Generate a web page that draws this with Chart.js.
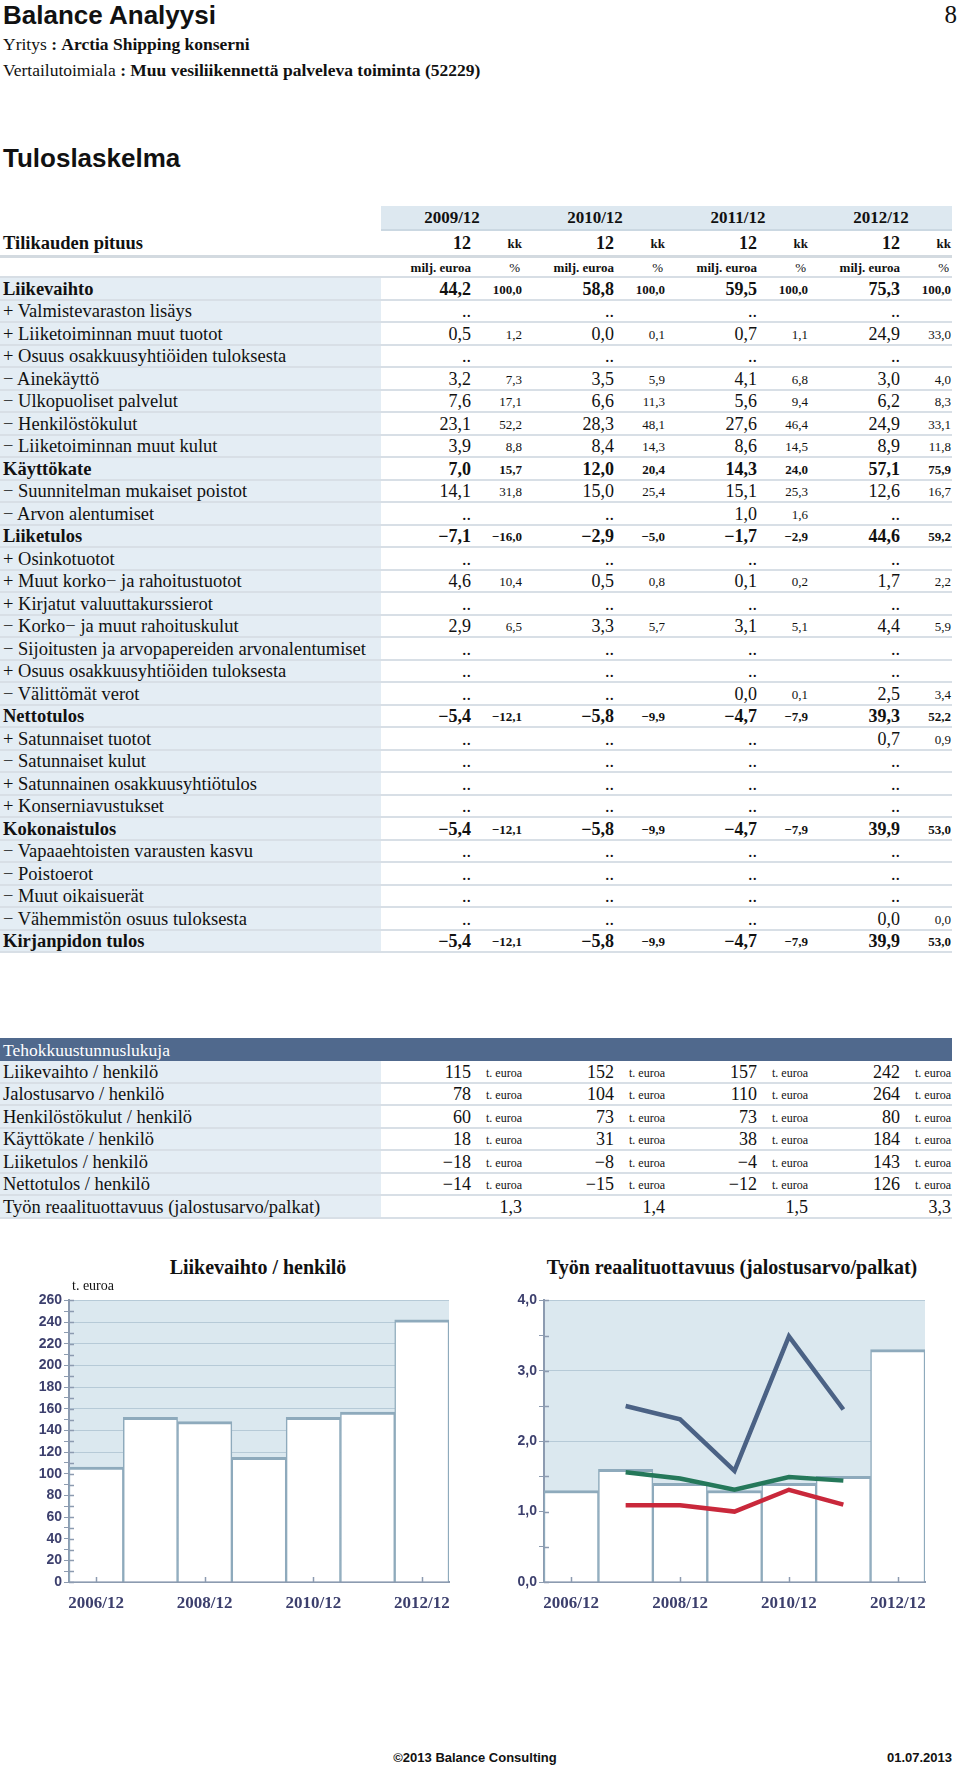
<!DOCTYPE html>
<html>
<head>
<meta charset="utf-8">
<title>Balance Analyysi</title>
<script src="https://cdn.jsdelivr.net/npm/chart.js@4.4.0/dist/chart.umd.min.js"></script>
<style>
  body { margin: 0; background: #fff; }
  #page { position: relative; width: 960px; height: 1767px; overflow: hidden; font-family: "Liberation Serif", serif; color: #111; }
  .t { position: absolute; height: 24px; line-height: 24px; white-space: nowrap; }
  .b { font-weight: bold; }
  .lab { font-size: 18.5px; }
  .val { font-size: 18px; }
  .pct { font-size: 13px; }
  .sans { font-family: "Liberation Sans", sans-serif; }
  .box { position: absolute; }
  canvas { position: absolute; }
</style>
</head>
<body>
<div id="page">
  <canvas id="salesChart" width="470" height="330" style="left:0;top:1290px"></canvas>
  <canvas id="prodChart" width="470" height="330" style="left:480px;top:1290px"></canvas>
</div>
<script>
'use strict';

// chart data
var years = ['2006/12', '2007/12', '2008/12', '2009/12', '2010/12', '2011/12', '2012/12'];
var salesPerPerson = [106, 152, 148, 115, 152, 157, 242];
var salesTicks = [0, 20, 40, 60, 80, 100, 120, 140, 160, 180, 200, 220, 240, 260];
var productivity = [1.3, 1.6, 1.4, 1.3, 1.4, 1.5, 3.3];
var prodUpper = [null, 2.5, 2.31, 1.58, 3.49, 2.45, null];
var prodMedian = [null, 1.56, 1.47, 1.31, 1.49, 1.44, null];
var prodLower = [null, 1.09, 1.09, 1.0, 1.31, 1.1, null];

// income statement
var periods = ['2009/12', '2010/12', '2011/12', '2012/12'];
var rowLabels = ['Liikevaihto', '+ Valmistevaraston lisäys', '+ Liiketoiminnan muut tuotot',
  '+ Osuus osakkuusyhtiöiden tuloksesta', '− Ainekäyttö', '− Ulkopuoliset palvelut',
  '− Henkilöstökulut', '− Liiketoiminnan muut kulut', 'Käyttökate',
  '− Suunnitelman mukaiset poistot', '− Arvon alentumiset', 'Liiketulos', '+ Osinkotuotot',
  '+ Muut korko− ja rahoitustuotot', '+ Kirjatut valuuttakurssierot',
  '− Korko− ja muut rahoituskulut', '− Sijoitusten ja arvopapereiden arvonalentumiset',
  '+ Osuus osakkuusyhtiöiden tuloksesta', '− Välittömät verot', 'Nettotulos',
  '+ Satunnaiset tuotot', '− Satunnaiset kulut', '+ Satunnainen osakkuusyhtiötulos',
  '+ Konserniavustukset', 'Kokonaistulos', '− Vapaaehtoisten varausten kasvu',
  '− Poistoerot', '− Muut oikaisuerät', '− Vähemmistön osuus tuloksesta', 'Kirjanpidon tulos'];
var boldRows = [0, 8, 11, 19, 24, 29];

var val2009 = ['44,2', '..', '0,5', '..', '3,2', '7,6', '23,1', '3,9', '7,0', '14,1', '..', '−7,1', '..', '4,6', '..', '2,9', '..', '..', '..', '−5,4', '..', '..', '..', '..', '−5,4', '..', '..', '..', '..', '−5,4'];
var pct2009 = ['100,0', '', '1,2', '', '7,3', '17,1', '52,2', '8,8', '15,7', '31,8', '', '−16,0', '', '10,4', '', '6,5', '', '', '', '−12,1', '', '', '', '', '−12,1', '', '', '', '', '−12,1'];
var val2010 = ['58,8', '..', '0,0', '..', '3,5', '6,6', '28,3', '8,4', '12,0', '15,0', '..', '−2,9', '..', '0,5', '..', '3,3', '..', '..', '..', '−5,8', '..', '..', '..', '..', '−5,8', '..', '..', '..', '..', '−5,8'];
var pct2010 = ['100,0', '', '0,1', '', '5,9', '11,3', '48,1', '14,3', '20,4', '25,4', '', '−5,0', '', '0,8', '', '5,7', '', '', '', '−9,9', '', '', '', '', '−9,9', '', '', '', '', '−9,9'];
var val2011 = ['59,5', '..', '0,7', '..', '4,1', '5,6', '27,6', '8,6', '14,3', '15,1', '1,0', '−1,7', '..', '0,1', '..', '3,1', '..', '..', '0,0', '−4,7', '..', '..', '..', '..', '−4,7', '..', '..', '..', '..', '−4,7'];
var pct2011 = ['100,0', '', '1,1', '', '6,8', '9,4', '46,4', '14,5', '24,0', '25,3', '1,6', '−2,9', '', '0,2', '', '5,1', '', '', '0,1', '−7,9', '', '', '', '', '−7,9', '', '', '', '', '−7,9'];
var val2012 = ['75,3', '..', '24,9', '..', '3,0', '6,2', '24,9', '8,9', '57,1', '12,6', '..', '44,6', '..', '1,7', '..', '4,4', '..', '..', '2,5', '39,3', '0,7', '..', '..', '..', '39,9', '..', '..', '..', '0,0', '39,9'];
var pct2012 = ['100,0', '', '33,0', '', '4,0', '8,3', '33,1', '11,8', '75,9', '16,7', '', '59,2', '', '2,2', '', '5,9', '', '', '3,4', '52,2', '0,9', '', '', '', '53,0', '', '', '', '0,0', '53,0'];

// efficiency figures (t. euroa)
var effLabels = ['Liikevaihto / henkilö', 'Jalostusarvo / henkilö', 'Henkilöstökulut / henkilö',
  'Käyttökate / henkilö', 'Liiketulos / henkilö', 'Nettotulos / henkilö'];
var eff2009 = ['115', '78', '60', '18', '−18', '−14'];
var eff2010 = ['152', '104', '73', '31', '−8', '−15'];
var eff2011 = ['157', '110', '73', '38', '−4', '−12'];
var eff2012 = ['242', '264', '80', '184', '143', '126'];

var page = document.getElementById('page');

function box(x, y, w, h, color) {
  var d = document.createElement('div');
  d.className = 'box';
  d.style.left = x + 'px'; d.style.top = y + 'px';
  d.style.width = w + 'px'; d.style.height = h + 'px';
  d.style.background = color;
  page.appendChild(d);
}

function put(txt, x, yc, cls, align, style) {
  var d = document.createElement('div');
  d.className = 't ' + (cls || '');
  d.textContent = txt;
  d.style.top = (yc - 12) + 'px';
  if (align === 'r') {
    d.style.right = (960 - x) + 'px';
  } else if (align === 'c') {
    d.style.left = (x - 250) + 'px'; d.style.width = '500px'; d.style.textAlign = 'center';
  } else {
    d.style.left = x + 'px';
  }
  if (style) Object.keys(style).forEach(function(k) { d.style[k] = style[k]; });
  page.appendChild(d);
  return d;
}

//header
put('Balance Analyysi', 3, 15, 'sans b', 'l', {fontSize: '26px', height: '30px', lineHeight: '30px', top: '0px'});
put('8', 957, 15, '', 'r', {fontSize: '25px'});
var yr = put('', 3, 44, '', 'l', {fontSize: '17.5px'});
yr.innerHTML = 'Yritys <b>:</b> <b>Arctia Shipping konserni</b>';
var vt = put('', 3, 70, '', 'l', {fontSize: '17.5px'});
vt.innerHTML = 'Vertailutoimiala <b>:</b> <b>Muu vesiliikennettä palveleva toiminta (52229)</b>';
put('Tuloslaskelma', 3, 158, 'sans b', 'l', {fontSize: '26px'});

// income statement table
var colL = 381, groupW = 143, valRight = 471, pctRight = 522, tableR = 952;
var vals = [val2009, val2010, val2011, val2012];
var pcts = [pct2009, pct2010, pct2011, pct2012];

box(colL, 206, tableR - colL, 23, '#dde8f0');
box(colL, 229, tableR - colL, 2, '#cbd8e2');
box(0, 255, tableR, 3, '#d3dae0');
box(0, 276, tableR, 2, '#d7dee5');
put('Tilikauden pituus', 3, 243, 'lab b');
periods.forEach(function(p, k) {
  var off = k * groupW;
  put(p, colL + off + 71, 217.5, 'b', 'c', {fontSize: '17px'});
  put('12', valRight + off, 243, 'val b', 'r');
  put('kk', pctRight + off, 244, 'pct b', 'r');
  put('milj. euroa', valRight + off, 268, 'pct b', 'r');
  put('%', pctRight + off - 2, 268, 'pct', 'r');
});

var rowTop0 = 278, rowH = 22.5;
rowLabels.forEach(function(lab, i) {
  var rowY = rowTop0 + rowH * i;
  var yc = rowY + 10.5;
  var bold = boldRows.indexOf(i) >= 0;
  box(0, rowY, colL, rowH - 2, '#e4edf4');
  box(0, rowY + rowH - 2, tableR, 2, '#d8dfe6');
  put(lab, 3, yc, 'lab' + (bold ? ' b' : ''));
  for (var k = 0; k < 4; k++) {
    var off = k * groupW;
    put(vals[k][i], valRight + off, yc, 'val' + (bold ? ' b' : ''), 'r');
    if (pcts[k][i]) put(pcts[k][i], pctRight + off, yc + 1, 'pct' + (bold ? ' b' : ''), 'r');
  }
});

// efficiency table
var effs = [eff2009, eff2010, eff2011, eff2012];
box(0, 1038, tableR, 23, '#50698d');
put('Tehokkuustunnuslukuja', 3, 1049.5, 'lab', 'l', {color: '#fff', fontSize: '17.5px'});
var effTop0 = 1061;
for (var r = 0; r <= effLabels.length; r++) {
  var effY = effTop0 + rowH * r;
  var eyc = effY + 10.5;
  box(0, effY, colL, rowH - 2, '#e4edf4');
  box(0, effY + rowH - 2, tableR, 2, '#d8dfe6');
  if (r < effLabels.length) {
    put(effLabels[r], 3, eyc, 'lab');
    for (var k = 0; k < 4; k++) {
      put(effs[k][r], valRight + k * groupW, eyc, 'val', 'r');
      put('t. euroa', pctRight + k * groupW, eyc + 1, 'pct', 'r', {fontSize: '12px'});
    }
  } else {
    put('Työn reaalituottavuus (jalostusarvo/palkat)', 3, eyc, 'lab');
    for (var k = 0; k < 4; k++) {
      put(productivity[k + 3].toFixed(1).replace('.', ','), pctRight + k * groupW, eyc, 'val', 'r');
    }
  }
}

// chart titles
put('Liikevaihto / henkilö', 258, 1267, 'b', 'c', {fontSize: '20px'});
put('t. euroa', 72, 1286, '', 'l', {fontSize: '14px'});
put('Työn reaalituottavuus (jalostusarvo/palkat)', 732, 1267, 'b', 'c', {fontSize: '20px'});

// footer
put('©2013 Balance Consulting', 475, 1758, 'sans b', 'c', {fontSize: '13px'});
put('01.07.2013', 952, 1758, 'sans b', 'r', {fontSize: '13px'});

//Charts
var navy = '#3c3f6d';
var axisCol = '#8c9bb0';
var barEdge = '#8eaabc';

var plotBg = {
  id: 'plotBg',
  beforeDraw: function(chart) {
    var a = chart.chartArea, c = chart.ctx;
    c.save();
    c.fillStyle = '#dbe8ef';
    c.fillRect(a.left, a.top, a.right - a.left, a.bottom - a.top);
    c.restore();
  }
};

var innerTicks = {
  id: 'innerTicks',
  afterDatasetsDraw: function(chart) {
    var c = chart.ctx, ys = chart.scales.y, xs = chart.scales.x, a = chart.chartArea;
    c.save();
    c.strokeStyle = axisCol;
    c.lineWidth = 1.5;
    ys.ticks.forEach(function(t) {
      var py = Math.round(ys.getPixelForValue(t.value)) + 0.5;
      c.beginPath(); c.moveTo(a.left, py); c.lineTo(a.left + 5, py); c.stroke();
    });
    xs.ticks.forEach(function(t, i) {
      if (i % 2) return;
      var px = Math.round(xs.getPixelForTick(i)) + 0.5;
      c.beginPath(); c.moveTo(px, a.bottom); c.lineTo(px, a.bottom - 5); c.stroke();
    });
    c.restore();
  }
};

function chartOptions(yMax, step, major, fmt, yWidth, rightPad) {
  return {
    responsive: false,
    animation: false,
    devicePixelRatio: 1,
    layout: { padding: { top: 10, right: rightPad, bottom: 0, left: 0 } },
    plugins: { legend: { display: false }, tooltip: { enabled: false } },
    scales: {
      x: {
        offset: true,
        grid: { display: false },
        border: { color: axisCol, width: 2 },
        ticks: {
          autoSkip: false, maxRotation: 0, padding: 3, color: navy,
          font: { family: 'Liberation Serif', weight: 'bold', size: 17 },
          callback: function(v, i) { return i % 2 === 0 ? years[i] : ''; }
        },
        afterFit: function(s) { s.height = 38; }
      },
      y: {
        min: 0, max: yMax,
        grid: {
          color: function(ctx) {
            var v = ctx.tick ? ctx.tick.value : 0;
            return (v > 0 && Math.abs(v / major - Math.round(v / major)) < 1e-6) ? '#b6cad7' : 'rgba(0,0,0,0)';
          },
          tickColor: axisCol, tickLength: 5, lineWidth: 1
        },
        border: { color: axisCol, width: 2 },
        ticks: {
          stepSize: step, autoSkip: false, padding: 2, color: navy,
          font: { family: 'Liberation Sans', weight: 'bold', size: 14 },
          callback: function(v) {
            return Math.abs(v / major - Math.round(v / major)) < 1e-6 ? fmt(v) : '';
          }
        },
        afterFit: function(s) { s.width = yWidth; }
      }
    }
  };
}

new Chart(document.getElementById('salesChart').getContext('2d'), {
  type: 'bar',
  data: {
    labels: years,
    datasets: [{
      data: salesPerPerson,
      backgroundColor: '#ffffff',
      borderColor: barEdge,
      borderWidth: { top: 3, left: 1.5, right: 1.5, bottom: 0 },
      borderSkipped: false,
      categoryPercentage: 1,
      barPercentage: 1
    }]
  },
  options: chartOptions(salesTicks[salesTicks.length - 1], 10, 20, function(v) { return String(v); }, 69, 21),
  plugins: [plotBg, innerTicks]
});

new Chart(document.getElementById('prodChart').getContext('2d'), {
  type: 'bar',
  data: {
    labels: years,
    datasets: [{
      type: 'line', data: prodUpper, borderColor: '#4b6285', borderWidth: 4.5,
      pointRadius: 0, fill: false, tension: 0, order: 1
    }, {
      type: 'line', data: prodMedian, borderColor: '#25785a', borderWidth: 4.5,
      pointRadius: 0, fill: false, tension: 0, order: 1
    }, {
      type: 'line', data: prodLower, borderColor: '#c9283b', borderWidth: 4.5,
      pointRadius: 0, fill: false, tension: 0, order: 1
    }, {
      data: productivity,
      backgroundColor: '#ffffff',
      borderColor: barEdge,
      borderWidth: { top: 3, left: 1.5, right: 1.5, bottom: 0 },
      borderSkipped: false,
      categoryPercentage: 1,
      barPercentage: 1,
      order: 2
    }]
  },
  options: chartOptions(4, 0.5, 1, function(v) { return v.toFixed(1).replace('.', ','); }, 64, 25),
  plugins: [plotBg, innerTicks]
});
</script>
</body>
</html>
